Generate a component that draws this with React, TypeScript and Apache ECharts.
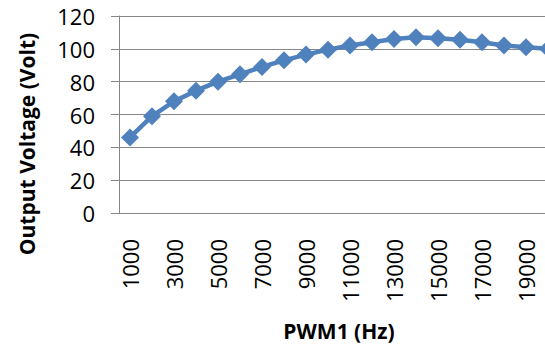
import React, { useEffect, useRef } from "react";
import * as echarts from "echarts";

// PWM1 frequency sweep (Hz) and measured output voltage (V)
const frequencies: string[] = [
  "1000", "2000", "3000", "4000", "5000", "6000", "7000", "8000", "9000", "10000",
  "11000", "12000", "13000", "14000", "15000", "16000", "17000", "18000", "19000", "20000",
];
const outputVoltage: number[] = [
  46, 59, 68, 74.5, 80, 84.5, 89, 93, 96.5, 99.5,
  102, 104, 106, 107, 106.5, 105.5, 104, 102, 101, 100,
];
const yTitle = "Output Voltage (Volt)";
const xTitle = "PWM1 (Hz)";

const FONT = "'Open Sans', 'Liberation Sans', sans-serif";
const BLUE = "#4F81BD";
const GRID_GRAY = "#868686";

export default function App() {
  const ref = useRef<HTMLDivElement>(null);

  useEffect(() => {
    if (!ref.current) return;
    const chart = echarts.init(ref.current, undefined, { renderer: "svg" });
    chart.setOption({
      animation: false,
      backgroundColor: "#ffffff",
      // plot area runs past the visible frame on the right; the wrapper crops it
      grid: { left: 119, top: 16, bottom: 134, right: 0, containLabel: false },
      xAxis: {
        type: "category",
        data: frequencies,
        boundaryGap: true,
        axisLine: { lineStyle: { color: GRID_GRAY, width: 1 } },
        axisTick: { show: false },
        axisLabel: {
          interval: 1,
          rotate: 90,
          margin: 26,
          color: "#000",
          fontSize: 22,
          fontFamily: FONT,
        },
        splitLine: { show: false },
      },
      yAxis: {
        type: "value",
        min: 0,
        max: 120,
        interval: 20,
        axisLine: { show: true, lineStyle: { color: GRID_GRAY, width: 1 } },
        axisTick: { show: true, length: 8, lineStyle: { color: GRID_GRAY } },
        axisLabel: { margin: 24, color: "#000", fontSize: 22, fontFamily: FONT },
        splitLine: { show: true, lineStyle: { color: GRID_GRAY, width: 1 } },
      },
      graphic: [
        {
          type: "text",
          x: 27,
          y: 144,
          rotation: Math.PI / 2,
          style: {
            text: yTitle,
            fill: "#000",
            font: `bold 21px ${FONT}`,
            align: "center",
            verticalAlign: "middle",
          },
        },
        {
          type: "text",
          x: 339,
          y: 331,
          style: {
            text: xTitle,
            fill: "#000",
            font: `bold 21px ${FONT}`,
            align: "center",
            verticalAlign: "middle",
          },
        },
      ],
      series: [
        {
          type: "line",
          data: outputVoltage,
          symbol: "diamond",
          symbolSize: 18,
          showAllSymbol: true,
          lineStyle: { color: BLUE, width: 4.5 },
          itemStyle: { color: BLUE },
        },
      ],
    });
    return () => chart.dispose();
  }, []);

  return (
    <div
      style={{
        position: "fixed",
        left: 0,
        top: 0,
        width: 545,
        height: 347,
        overflow: "hidden",
        background: "#fff",
      }}
    >
      <div ref={ref} style={{ width: 559, height: 347 }} />
    </div>
  );
}
